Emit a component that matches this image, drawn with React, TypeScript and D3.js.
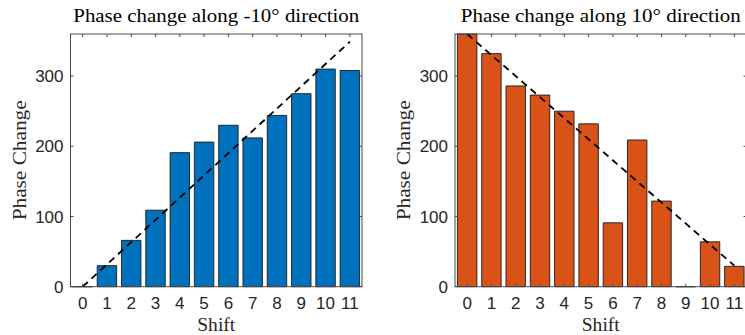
import React from "react";
import * as d3 from "d3";

const shifts = [0, 1, 2, 3, 4, 5, 6, 7, 8, 9, 10, 11];
const leftValues = [0, 30, 66, 109, 191, 206, 230, 212, 244, 275, 310, 308];
const rightValues = [360, 332, 286, 273, 250, 232, 91, 209, 122, 0, 64, 29];
const leftTrend = [[0, 0], [11, 349]];
const rightTrend = [[0, 360], [11, 30]];
const yTicks = [0, 100, 200, 300];
const leftTitle = "Phase change along -10° direction";
const rightTitle = "Phase change along 10° direction";
const xLabel = "Shift";
const yLabel = "Phase Change";

const W = 745;
const H = 335;

type PanelProps = {
  x0: number;
  x1: number;
  values: number[];
  trend: number[][];
  color: string;
  title: string;
  titleLen: number;
};

function Panel({ x0, x1, values, trend, color, title, titleLen }: PanelProps) {
  const y0 = 34;
  const y1 = 286.7;
  const x = d3.scaleLinear().domain([-0.5, 11.5]).range([x0, x1]);
  const y = d3.scaleLinear().domain([0, 360]).range([y1, y0]);
  const bw = 0.8;
  const line = d3
    .line<number[]>()
    .x((d) => x(d[0]))
    .y((d) => y(d[1]));
  const cx = (x0 + x1) / 2;
  const cy = (y0 + y1) / 2;
  const axisColor = "#4a4a4a";
  const tickLen = 3;
  const tickFont = "'Liberation Sans', Arial, sans-serif";
  return (
    <g>
      {shifts.map((s, i) => {
        const a = x(s - bw / 2);
        const b = x(s + bw / 2);
        const top = y(values[i]);
        return (
          <path
            key={i}
            d={`M${a},${y1}V${top}H${b}V${y1}Z`}
            fill={color}
            stroke="#1a1a1a"
            strokeWidth={0.9}
          />
        );
      })}
      <path
        d={line(trend) || ""}
        fill="none"
        stroke="#000"
        strokeWidth={1.8}
        strokeDasharray="7,5"
      />
      <rect
        x={x0}
        y={y0}
        width={x1 - x0}
        height={y1 - y0}
        fill="none"
        stroke={axisColor}
        strokeWidth={1}
      />
      {shifts.map((s) => (
        <g key={"xt" + s}>
          <line x1={x(s)} x2={x(s)} y1={y1} y2={y1 - tickLen} stroke={axisColor} />
          <line x1={x(s)} x2={x(s)} y1={y0} y2={y0 + tickLen} stroke={axisColor} />
          <text
            x={x(s)}
            y={309}
            textAnchor="middle"
            fontFamily={tickFont}
            fontSize={17}
            fill="#262626"
          >
            {s}
          </text>
        </g>
      ))}
      {yTicks.map((t) => (
        <g key={"yt" + t}>
          <line x1={x0} x2={x0 + tickLen} y1={y(t)} y2={y(t)} stroke={axisColor} />
          <line x1={x1} x2={x1 - tickLen} y1={y(t)} y2={y(t)} stroke={axisColor} />
          <text
            x={x0 - 7}
            y={y(t)}
            dy="0.36em"
            textAnchor="end"
            fontFamily={tickFont}
            fontSize={17}
            fill="#262626"
          >
            {t}
          </text>
        </g>
      ))}
      <text
        x={cx}
        y={21.5}
        textAnchor="middle"
        fontFamily="'Liberation Serif', 'Times New Roman', serif"
        fontSize={19}
        fill="#000"
        textLength={titleLen}
        lengthAdjust="spacingAndGlyphs"
      >
        {title}
      </text>
      <text
        x={cx}
        y={331}
        textAnchor="middle"
        fontFamily="'Liberation Serif', 'Times New Roman', serif"
        fontSize={19}
        fill="#262626"
        textLength={38}
        lengthAdjust="spacingAndGlyphs"
      >
        {xLabel}
      </text>
      <text
        transform={`translate(${x0 - 45},${cy}) rotate(-90)`}
        textAnchor="middle"
        fontFamily="'Liberation Serif', 'Times New Roman', serif"
        fontSize={19}
        fill="#262626"
        textLength={120}
        lengthAdjust="spacingAndGlyphs"
      >
        {yLabel}
      </text>
    </g>
  );
}

export default function App() {
  return (
    <svg
      width={W}
      height={H}
      style={{ position: "absolute", left: 0, top: 0, background: "#fff" }}
    >
      <rect x={0} y={0} width={W} height={H} fill="#fff" />
      <Panel
        x0={70.5}
        x1={362}
        values={leftValues}
        trend={leftTrend}
        color="#0072BD"
        title={leftTitle}
        titleLen={286}
      />
      <Panel
        x0={455}
        x1={746.5}
        values={rightValues}
        trend={rightTrend}
        color="#D95319"
        title={rightTitle}
        titleLen={280}
      />
    </svg>
  );
}
